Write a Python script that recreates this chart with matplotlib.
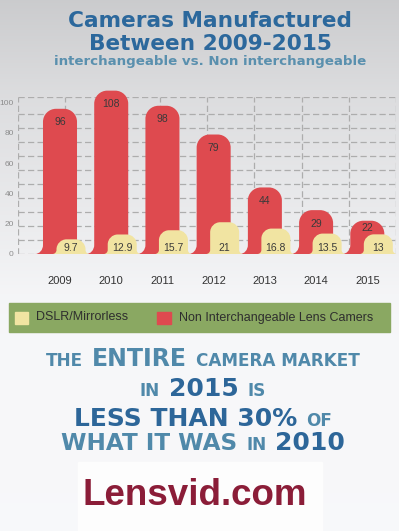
import matplotlib
matplotlib.use('Agg')
import matplotlib.pyplot as plt
import numpy as np
from matplotlib.path import Path
from matplotlib.patches import PathPatch, Rectangle

# данные
years = ['2009', '2010', '2011', '2012', '2013', '2014', '2015']
non_interchangeable = [96, 108, 98, 79, 44, 29, 22]
dslr_mirrorless = [9.7, 12.9, 15.7, 21, 16.8, 13.5, 13]
y_ticks = [0, 20, 40, 60, 80, 100]

W, H = 399, 531
fig = plt.figure(figsize=(W / 100, H / 100), dpi=100)

# фон с градиентом
bg = fig.add_axes([0, 0, 1, 1])
rows = np.arange(H)
level = np.interp(rows, [0, 90, 250, 290, 340, 531], [0.80, 0.865, 0.94, 0.962, 0.972, 0.975])
img = np.stack([level - 0.004, level - 0.002, level + 0.006], axis=-1)[:, None, :]
img = np.clip(np.repeat(img, 4, axis=1), 0, 1)
bg.imshow(img, aspect='auto', extent=[0, 1, 0, 1])
bg.set_axis_off()
# белая подложка под логотипом
fig.patches.append(Rectangle((78 / W, 0), 244 / W, 1 - 462 / H, transform=fig.transFigure,
                             color='#fdfdfd', zorder=0))

# заголовок
title_color = '#2c689c'
fig.text(210 / W, 1 - 27 / H, 'Cameras Manufactured', ha='center', va='baseline',
         fontsize=15.6, weight='bold', color=title_color, family='DejaVu Sans')
fig.text(210 / W, 1 - 50 / H, 'Between 2009-2015', ha='center', va='baseline',
         fontsize=15.6, weight='bold', color=title_color, family='DejaVu Sans')
fig.text(210 / W, 1 - 65.5 / H, 'interchangeable vs. Non interchangeable', ha='center',
         va='baseline', fontsize=9.6, weight='bold', color='#5a90ae', family='DejaVu Sans')

# область графика
ax = fig.add_axes([18 / W, 1 - 254 / H, 378 / W, 157 / H])
ax.patch.set_alpha(0)
x_left, x_right = -0.82, 6.56
y_top = 103.8
ax.set_xlim(x_left, x_right)
ax.set_ylim(0, y_top)
for s in ax.spines.values():
    s.set_visible(False)

grid_kw = dict(color='#adadad', lw=0.9, dashes=(5, 2.6), zorder=1)
for gy in list(np.arange(0, 95, 9.25)) + [y_top]:
    ax.axhline(gy, **grid_kw)
for gx in np.linspace(x_left, x_right, 9):
    ax.axvline(gx, **grid_kw)

ax.set_yticks(y_ticks)
ax.set_yticklabels([str(t) for t in y_ticks], fontsize=6, color='#8c8c8c', family='Liberation Sans')
ax.set_xticks(range(len(years)))
ax.set_xticklabels(years, fontsize=8, color='#333333', family='Liberation Sans')
ax.tick_params(axis='y', length=0, pad=3)
ax.tick_params(axis='x', length=0, pad=16)

px_x = 1 / 51.2   # категория на пиксель
px_y = 1 / 1.513  # единиц на пиксель


def mound(xc, hw, h, r, fw, fh, color, z):
    hw, rx, fx = hw * px_x, r * px_x, fw * px_x
    fy = min(fh * px_y, h * 0.3)
    ry = min(r * px_y, h - fy)
    k = 0.55
    verts = [
        (xc - hw - fx, 0),
        (xc - hw - fx + k * fx, 0), (xc - hw, fy - k * fy), (xc - hw, fy),
        (xc - hw, h - ry),
        (xc - hw, h - ry + k * ry), (xc - hw + rx - k * rx, h), (xc - hw + rx, h),
        (xc + hw - rx, h),
        (xc + hw - rx + k * rx, h), (xc + hw, h - ry + k * ry), (xc + hw, h - ry),
        (xc + hw, fy),
        (xc + hw, fy - k * fy), (xc + hw + fx - k * fx, 0), (xc + hw + fx, 0),
        (xc - hw - fx, 0),
    ]
    codes = [Path.MOVETO] + [Path.CURVE4] * 3 + [Path.LINETO] + [Path.CURVE4] * 3 + \
            [Path.LINETO] + [Path.CURVE4] * 3 + [Path.LINETO] + [Path.CURVE4] * 3 + [Path.CLOSEPOLY]
    ax.add_patch(PathPatch(Path(verts, codes), facecolor=color, edgecolor='none',
                           zorder=z, clip_on=False))


red = '#de4a4f'
yellow = '#f1e4a2'
y_off = 11 * px_x
for i, (v, d) in enumerate(zip(non_interchangeable, dslr_mirrorless)):
    mound(i, 17, v, 13, 8, 9, red, 2)
    mound(i + y_off, 14.5, d, 10, 4, 4, yellow, 3)
    ax.text(i, max(v - 9, d + 4.5), f'{v:g}', ha='center', va='center', fontsize=7.5,
            color='#3a3a3a', family='Liberation Sans', zorder=4)
    ax.text(i + y_off, 4.2, f'{d:g}', ha='center', va='center', fontsize=7.5,
            color='#3a3a3a', family='Liberation Sans', zorder=4)

# легенда
fig.patches.append(Rectangle((9 / W, 1 - 332 / H), 381 / W, 29 / H,
                             transform=fig.transFigure, color='#8aa862', zorder=0))
fig.patches.append(Rectangle((15 / W, 1 - 324 / H), 13 / W, 12 / H,
                             transform=fig.transFigure, color=yellow))
fig.patches.append(Rectangle((157 / W, 1 - 324 / H), 14 / W, 12 / H,
                             transform=fig.transFigure, color=red))
fig.text(36 / W, 1 - 317.5 / H, 'DSLR/Mirrorless', va='center', fontsize=9,
         color='#2e2e2e', family='Liberation Sans')
fig.text(179 / W, 1 - 317.5 / H, 'Non Interchangeable Lens Camers', va='center', fontsize=9,
         color='#2e2e2e', family='Liberation Sans')

# текстовый блок
light = '#5089aa'
dark = '#2d6699'
renderer = fig.canvas.get_renderer()


def text_line(y_px, pieces, x_center=203, gap=9):
    objs = []
    for s, size, color in pieces:
        objs.append(fig.text(0, 1 - y_px / H, s, fontsize=size, color=color, family='DejaVu Sans',
                             weight='bold', va='baseline', ha='left'))
    widths = [t.get_window_extent(renderer).width for t in objs]
    x = x_center - (sum(widths) + gap * (len(objs) - 1)) / 2
    for t, w in zip(objs, widths):
        t.set_x(x / W)
        x += w + gap


text_line(366, [('THE', 12.2, light), ('ENTIRE', 17, light), ('CAMERA MARKET', 12.2, light)])
text_line(396, [('IN', 12.2, light), ('2015', 18, dark), ('IS', 12.2, light)])
text_line(426, [('LESS THAN 30%', 18, dark), ('OF', 12.2, light)])
text_line(450, [('WHAT IT WAS', 16.7, light), ('IN', 12.2, light), ('2010', 18, dark)])

fig.text(195 / W, 1 - 505 / H, 'Lensvid.com', ha='center', va='baseline', fontsize=26.5,
         weight='bold', color='#8b1d38', family='Liberation Sans')

fig.savefig('out.png', dpi=100)
